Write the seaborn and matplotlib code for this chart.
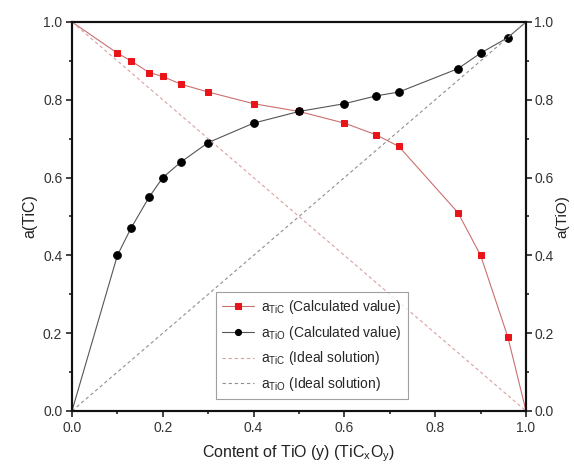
import matplotlib
matplotlib.use("Agg")
import matplotlib.pyplot as plt
import seaborn as sns
from matplotlib.ticker import MultipleLocator, FormatStrFormatter

sns.set_style("ticks")
plt.rcParams['font.family'] = ['Liberation Sans', 'DejaVu Sans']
plt.rcParams['mathtext.fontset'] = 'custom'
plt.rcParams['mathtext.rm'] = 'Liberation Sans'
plt.rcParams['mathtext.it'] = 'Liberation Sans'

# Data
y_content = [0.0, 0.10, 0.13, 0.17, 0.20, 0.24, 0.30, 0.40, 0.50, 0.60, 0.67, 0.72, 0.85, 0.90, 0.96, 1.0]
a_tic_calc = [1.0, 0.92, 0.90, 0.87, 0.86, 0.84, 0.82, 0.79, 0.77, 0.74, 0.71, 0.68, 0.51, 0.40, 0.19, 0.0]
a_tio_calc = [0.0, 0.40, 0.47, 0.55, 0.60, 0.64, 0.69, 0.74, 0.77, 0.79, 0.81, 0.82, 0.88, 0.92, 0.96, 1.0]
ideal_x = [0.0, 1.0]
a_tic_ideal = [1.0, 0.0]
a_tio_ideal = [0.0, 1.0]

fig = plt.figure(figsize=(5.74, 4.73), dpi=100)
ax = fig.add_axes([0.1254, 0.1311, 0.7910, 0.8224])

inner = list(range(1, len(y_content) - 1))
sns.lineplot(x=y_content, y=a_tic_calc, ax=ax, sort=False, color='#cc6f6f', lw=0.8,
             marker='s', markersize=5, markevery=inner, markerfacecolor='#e8141a',
             markeredgecolor='#e8141a', label=r'a$_{\rm TiC}$ (Calculated value)')
sns.lineplot(x=y_content, y=a_tio_calc, ax=ax, sort=False, color='#555555', lw=0.8,
             marker='o', markersize=5.5, markevery=inner, markerfacecolor='black',
             markeredgecolor='black', label=r'a$_{\rm TiO}$ (Calculated value)')
sns.lineplot(x=ideal_x, y=a_tic_ideal, ax=ax, sort=False, color='#d9a0a0', lw=0.8,
             linestyle=(0, (3, 2.5)), label=r'a$_{\rm TiC}$ (Ideal solution)')
sns.lineplot(x=ideal_x, y=a_tio_ideal, ax=ax, sort=False, color='#909090', lw=0.8,
             linestyle=(0, (3, 2.5)), label=r'a$_{\rm TiO}$ (Ideal solution)')

def style_axis(a):
    a.set_ylim(0, 1)
    a.yaxis.set_major_locator(MultipleLocator(0.2))
    a.yaxis.set_minor_locator(MultipleLocator(0.1))
    a.yaxis.set_major_formatter(FormatStrFormatter('%.1f'))
    a.tick_params(which='major', direction='out', length=4, width=1.2, labelsize=10,
                  color='#222222', labelcolor='#333333', pad=3)
    a.tick_params(which='minor', direction='out', length=2.5, width=1.2, color='#222222')
    for s in a.spines.values():
        s.set_linewidth(1.5)
        s.set_color('#111111')

ax.set_xlim(0, 1)
ax.xaxis.set_major_locator(MultipleLocator(0.2))
ax.xaxis.set_minor_locator(MultipleLocator(0.1))
ax.xaxis.set_major_formatter(FormatStrFormatter('%.1f'))
style_axis(ax)

ax.set_xlabel(r'Content of TiO (y) (TiC$_{\rm x}$O$_{\rm y}$)', fontsize=11.5, color='#222222', labelpad=6)
ax.set_ylabel('a(TiC)', fontsize=11.5, color='#222222', labelpad=4)

ax2 = ax.twinx()
style_axis(ax2)
ax2.tick_params(axis='y', which='major', pad=2)
ax2.set_ylabel('a(TiO)', fontsize=11, color='#222222', labelpad=1)

leg = ax.legend(loc='lower left', bbox_to_anchor=(0.302, 0.012), fontsize=10, frameon=True,
                fancybox=False, edgecolor='#888888', handlelength=2.3, borderpad=0.45,
                labelspacing=0.55, handletextpad=0.5, markerscale=0.8)
leg.get_frame().set_linewidth(0.8)

fig.savefig('out.png', dpi=100)
